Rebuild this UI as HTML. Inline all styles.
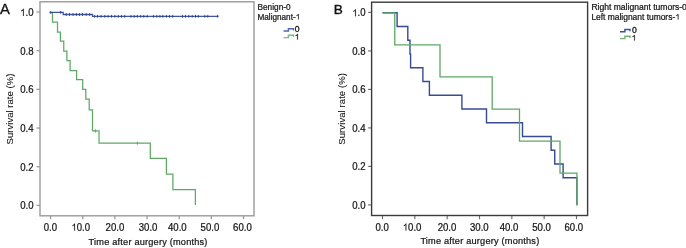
<!DOCTYPE html><html><head><meta charset="utf-8"><style>html,body{margin:0;padding:0;background:#fff;}svg{display:block;will-change:transform;}text{font-family:"Liberation Sans",sans-serif;fill:#141414;stroke:#141414;stroke-width:0.22px;}</style></head><body>
<svg width="686" height="248" viewBox="0 0 686 248">
<rect width="686" height="248" fill="#fff"/>
<line x1="36.5" y1="205.4" x2="40" y2="205.4" stroke="#9a9a9a" stroke-width="1.3"/>
<g transform="translate(33.5,209.3) scale(1,1.07)"><text x="-13.35" y="0" font-size="9.6">0.0</text></g>
<line x1="36.5" y1="166.72" x2="40" y2="166.72" stroke="#9a9a9a" stroke-width="1.3"/>
<g transform="translate(33.5,170.62) scale(1,1.07)"><text x="-13.35" y="0" font-size="9.6">0.2</text></g>
<line x1="36.5" y1="128.04" x2="40" y2="128.04" stroke="#9a9a9a" stroke-width="1.3"/>
<g transform="translate(33.5,131.94) scale(1,1.07)"><text x="-13.35" y="0" font-size="9.6">0.4</text></g>
<line x1="36.5" y1="89.36" x2="40" y2="89.36" stroke="#9a9a9a" stroke-width="1.3"/>
<g transform="translate(33.5,93.26) scale(1,1.07)"><text x="-13.35" y="0" font-size="9.6">0.6</text></g>
<line x1="36.5" y1="50.68" x2="40" y2="50.68" stroke="#9a9a9a" stroke-width="1.3"/>
<g transform="translate(33.5,54.58) scale(1,1.07)"><text x="-13.35" y="0" font-size="9.6">0.8</text></g>
<line x1="36.5" y1="12" x2="40" y2="12" stroke="#9a9a9a" stroke-width="1.3"/>
<g transform="translate(33.5,15.9) scale(1,1.07)"><path transform="translate(-13.35,0) scale(0.004687,-0.004687)" d="M763 0H600V1100Q518 1040 412 980Q307 920 223 890V1057Q374 1125 487 1222Q600 1318 647 1409H763Z" fill="#141414" stroke="#141414" stroke-width="0.132" vector-effect="non-scaling-stroke"/><text x="-8.01" y="0" font-size="9.6">.0</text></g>
<line x1="50.6" y1="215.8" x2="50.6" y2="219.2" stroke="#9a9a9a" stroke-width="1.3"/>
<g transform="translate(50.45,230.6) scale(1,1.07)"><text x="-6.67" y="0" font-size="9.6">0.0</text></g>
<line x1="82.75" y1="215.8" x2="82.75" y2="219.2" stroke="#9a9a9a" stroke-width="1.3"/>
<g transform="translate(80.75,230.6) scale(1,1.07)"><path transform="translate(-9.34,0) scale(0.004687,-0.004687)" d="M763 0H600V1100Q518 1040 412 980Q307 920 223 890V1057Q374 1125 487 1222Q600 1318 647 1409H763Z" fill="#141414" stroke="#141414" stroke-width="0.132" vector-effect="non-scaling-stroke"/><text x="-4" y="0" font-size="9.6">0.0</text></g>
<line x1="114.9" y1="215.8" x2="114.9" y2="219.2" stroke="#9a9a9a" stroke-width="1.3"/>
<g transform="translate(114.9,230.6) scale(1,1.07)"><text x="-9.34" y="0" font-size="9.6">20.0</text></g>
<line x1="147.05" y1="215.8" x2="147.05" y2="219.2" stroke="#9a9a9a" stroke-width="1.3"/>
<g transform="translate(148.1,230.6) scale(1,1.07)"><text x="-9.34" y="0" font-size="9.6">30.0</text></g>
<line x1="179.2" y1="215.8" x2="179.2" y2="219.2" stroke="#9a9a9a" stroke-width="1.3"/>
<g transform="translate(177.3,230.6) scale(1,1.07)"><text x="-9.34" y="0" font-size="9.6">40.0</text></g>
<line x1="211.35" y1="215.8" x2="211.35" y2="219.2" stroke="#9a9a9a" stroke-width="1.3"/>
<g transform="translate(209.9,230.6) scale(1,1.07)"><text x="-9.34" y="0" font-size="9.6">50.0</text></g>
<line x1="243.5" y1="215.8" x2="243.5" y2="219.2" stroke="#9a9a9a" stroke-width="1.3"/>
<g transform="translate(242.4,230.6) scale(1,1.07)"><text x="-9.34" y="0" font-size="9.6">60.0</text></g>
<rect x="40" y="1.8" width="214" height="214" fill="none" stroke="#9a9a9a" stroke-width="1.4"/>
<line x1="368.1" y1="204.9" x2="371.6" y2="204.9" stroke="#6e6e6e" stroke-width="1.15"/>
<g transform="translate(365.6,208.8) scale(1,1.07)"><text x="-13.35" y="0" font-size="9.6">0.0</text></g>
<line x1="368.1" y1="166.4" x2="371.6" y2="166.4" stroke="#6e6e6e" stroke-width="1.15"/>
<g transform="translate(365.6,170.3) scale(1,1.07)"><text x="-13.35" y="0" font-size="9.6">0.2</text></g>
<line x1="368.1" y1="127.9" x2="371.6" y2="127.9" stroke="#6e6e6e" stroke-width="1.15"/>
<g transform="translate(365.6,131.8) scale(1,1.07)"><text x="-13.35" y="0" font-size="9.6">0.4</text></g>
<line x1="368.1" y1="89.4" x2="371.6" y2="89.4" stroke="#6e6e6e" stroke-width="1.15"/>
<g transform="translate(365.6,93.3) scale(1,1.07)"><text x="-13.35" y="0" font-size="9.6">0.6</text></g>
<line x1="368.1" y1="50.9" x2="371.6" y2="50.9" stroke="#6e6e6e" stroke-width="1.15"/>
<g transform="translate(365.6,54.8) scale(1,1.07)"><text x="-13.35" y="0" font-size="9.6">0.8</text></g>
<line x1="368.1" y1="12.4" x2="371.6" y2="12.4" stroke="#6e6e6e" stroke-width="1.15"/>
<g transform="translate(365.6,16.3) scale(1,1.07)"><path transform="translate(-13.35,0) scale(0.004687,-0.004687)" d="M763 0H600V1100Q518 1040 412 980Q307 920 223 890V1057Q374 1125 487 1222Q600 1318 647 1409H763Z" fill="#141414" stroke="#141414" stroke-width="0.132" vector-effect="non-scaling-stroke"/><text x="-8.01" y="0" font-size="9.6">.0</text></g>
<line x1="382.5" y1="215.5" x2="382.5" y2="219.2" stroke="#6e6e6e" stroke-width="1.15"/>
<g transform="translate(382.2,230.6) scale(1,1.07)"><text x="-6.67" y="0" font-size="9.6">0.0</text></g>
<line x1="414.83" y1="215.5" x2="414.83" y2="219.2" stroke="#6e6e6e" stroke-width="1.15"/>
<g transform="translate(412.1,230.6) scale(1,1.07)"><path transform="translate(-9.34,0) scale(0.004687,-0.004687)" d="M763 0H600V1100Q518 1040 412 980Q307 920 223 890V1057Q374 1125 487 1222Q600 1318 647 1409H763Z" fill="#141414" stroke="#141414" stroke-width="0.132" vector-effect="non-scaling-stroke"/><text x="-4" y="0" font-size="9.6">0.0</text></g>
<line x1="447.17" y1="215.5" x2="447.17" y2="219.2" stroke="#6e6e6e" stroke-width="1.15"/>
<g transform="translate(447,230.6) scale(1,1.07)"><text x="-9.34" y="0" font-size="9.6">20.0</text></g>
<line x1="479.5" y1="215.5" x2="479.5" y2="219.2" stroke="#6e6e6e" stroke-width="1.15"/>
<g transform="translate(479.35,230.6) scale(1,1.07)"><text x="-9.34" y="0" font-size="9.6">30.0</text></g>
<line x1="511.83" y1="215.5" x2="511.83" y2="219.2" stroke="#6e6e6e" stroke-width="1.15"/>
<g transform="translate(509,230.6) scale(1,1.07)"><text x="-9.34" y="0" font-size="9.6">40.0</text></g>
<line x1="544.17" y1="215.5" x2="544.17" y2="219.2" stroke="#6e6e6e" stroke-width="1.15"/>
<g transform="translate(541.6,230.6) scale(1,1.07)"><text x="-9.34" y="0" font-size="9.6">50.0</text></g>
<line x1="576.5" y1="215.5" x2="576.5" y2="219.2" stroke="#6e6e6e" stroke-width="1.15"/>
<g transform="translate(573.8,230.6) scale(1,1.07)"><text x="-9.34" y="0" font-size="9.6">60.0</text></g>
<rect x="371.6" y="2.2" width="216" height="213.3" fill="none" stroke="#3a3a3a" stroke-width="1.4"/>
<text transform="translate(0.1,13.5) scale(1.06,1)" font-size="14" style="stroke-width:0.32px">A</text>
<text x="333.8" y="13.7" font-size="13.6" style="stroke-width:0.4px">B</text>
<text x="88.6" y="244.7" font-size="9.2" textLength="118.8" lengthAdjust="spacing">Time after aurgery (months)</text>
<text x="420.4" y="244.3" font-size="9.2" textLength="118.8" lengthAdjust="spacing">Time after aurgery (months)</text>
<text transform="translate(13.3,109.0) rotate(-90)" font-size="9.5" text-anchor="middle" textLength="70.8" lengthAdjust="spacing" style="stroke-width:0.08px">Survival rate (%)</text>
<text transform="translate(345.3,108.9) rotate(-90)" font-size="9.5" text-anchor="middle" textLength="71.6" lengthAdjust="spacing" style="stroke-width:0.08px">Survival rate (%)</text>
<text x="257.5" y="9.9" font-size="8.15" textLength="33.1" lengthAdjust="spacingAndGlyphs">Benign-0</text>
<g transform="translate(257.5,19.6) scale(1.00271,1)"><text x="0" y="0" font-size="8.15">Malignant-</text><path transform="translate(38.05,0) scale(0.003979,-0.003979)" d="M763 0H600V1100Q518 1040 412 980Q307 920 223 890V1057Q374 1125 487 1222Q600 1318 647 1409H763Z" fill="#141414" stroke="#141414" stroke-width="0.132" vector-effect="non-scaling-stroke"/></g>
<text x="591.4" y="9.9" font-size="8.15" textLength="95.5" lengthAdjust="spacingAndGlyphs">Right malignant tumors-0</text>
<g transform="translate(591.4,19.6) scale(1.03487,1)"><text x="0" y="0" font-size="8.15">Left malignant tumors-</text><path transform="translate(81.08,0) scale(0.003979,-0.003979)" d="M763 0H600V1100Q518 1040 412 980Q307 920 223 890V1057Q374 1125 487 1222Q600 1318 647 1409H763Z" fill="#141414" stroke="#141414" stroke-width="0.132" vector-effect="non-scaling-stroke"/></g>
<path d="M283.5 31 H288.4 V28.7 H293.5 V30.5" fill="none" stroke="#5266b0" stroke-width="1.45"/><g transform="translate(294.7,31.8) scale(1.04,1)"><text x="0" y="0" font-size="8.3" style="stroke-width:0.3px">0</text></g>
<path d="M283.5 37.6 H288.4 V35.3 H293.5 V37.1" fill="none" stroke="#7cbd7f" stroke-width="1.45"/><g transform="translate(294.7,39.6) scale(1.04,1)"><path transform="translate(0,0) scale(0.004053,-0.004053)" d="M763 0H600V1100Q518 1040 412 980Q307 920 223 890V1057Q374 1125 487 1222Q600 1318 647 1409H763Z" fill="#141414" stroke="#141414" stroke-width="0.180" vector-effect="non-scaling-stroke"/></g>
<path d="M620 31.8 H624.9 V29.5 H630 V31.3" fill="none" stroke="#3d4f9b" stroke-width="1.45"/><g transform="translate(631.9,32.8) scale(1.04,1)"><text x="0" y="0" font-size="8.3" style="stroke-width:0.3px">0</text></g>
<path d="M620 38.6 H624.9 V36.3 H630 V38.1" fill="none" stroke="#72b577" stroke-width="1.45"/><g transform="translate(631.6,40.6) scale(1.04,1)"><path transform="translate(0,0) scale(0.004053,-0.004053)" d="M763 0H600V1100Q518 1040 412 980Q307 920 223 890V1057Q374 1125 487 1222Q600 1318 647 1409H763Z" fill="#141414" stroke="#141414" stroke-width="0.180" vector-effect="non-scaling-stroke"/></g>
<path d="M50.6 12.5 H52.5 V22 H57.5 V32 H60.4 V41 H63.75 V51 H66.9 V60.5 H70.1 V70.5 H76.6 V79.6 H82.7 V89.4 H85.8 V99.2 H89.2 V109.75 H92.5 V130.9 H99 V143.2 H150.3 V158.4 H166.4 V174.1 H172.9 V189.6 H195.4 V205" fill="none" stroke="#5ea866" stroke-width="1.25"/>
<path d="M49.5 12.4 H63.2 V14.5 H92.5 V16.3 H218.5" fill="none" stroke="#3d55a3" stroke-width="1.3"/>
<path d="M50.7 11 V13.8 M60.7 11 V13.8 M66.3 13.1 V15.9 M69.5 13.1 V15.9 M73 13.1 V15.9 M76.4 13.1 V15.9 M79.5 13.1 V15.9 M82.5 13.1 V15.9 M86.2 13.1 V15.9 M89.6 13.1 V15.9 M94.6 14.9 V17.7 M97.6 14.9 V17.7 M101.1 14.9 V17.7 M104.8 14.9 V17.7 M108 14.9 V17.7 M111.4 14.9 V17.7 M114.9 14.9 V17.7 M118.3 14.9 V17.7 M121.6 14.9 V17.7 M124.7 14.9 V17.7 M131 14.9 V17.7 M134.2 14.9 V17.7 M137.3 14.9 V17.7 M140.7 14.9 V17.7 M143.8 14.9 V17.7 M147.2 14.9 V17.7 M153.4 14.9 V17.7 M156.8 14.9 V17.7 M159.9 14.9 V17.7 M162.9 14.9 V17.7 M166.4 14.9 V17.7 M169.6 14.9 V17.7 M172.7 14.9 V17.7 M182.5 14.9 V17.7 M185.5 14.9 V17.7 M188.8 14.9 V17.7 M192.2 14.9 V17.7 M195.5 14.9 V17.7 M198.3 14.9 V17.7 M204.8 14.9 V17.7 M207.8 14.9 V17.7 M217.6 14.9 V17.7" fill="none" stroke="#2a3c85" stroke-width="0.9"/>
<path d="M95.4 129.3 V132.5 M137.4 141.6 V144.8" fill="none" stroke="#4f9457" stroke-width="0.8"/>
<path d="M382.5 12.8 H397.1 V26.55 H407.8 V40.3 H410 V54.05 H410.6 V67.8 H422.9 V81.55 H429.4 V95.3 H461.9 V109.05 H486.5 V122.8 H522.5 V136.55 H551.1 V150.3 H554.75 V164.05 H563.1 V177.8 H576.9 V205.3" fill="none" stroke="#374a92" stroke-width="1.4"/>
<path d="M382.5 12.8 H394.75 V44.88 H440 V76.97 H492.2 V109.05 H519.5 V141.13 H560 V173.22 H576.9 V205.3" fill="none" stroke="#5ea866" stroke-width="1.3"/>
</svg></body></html>
